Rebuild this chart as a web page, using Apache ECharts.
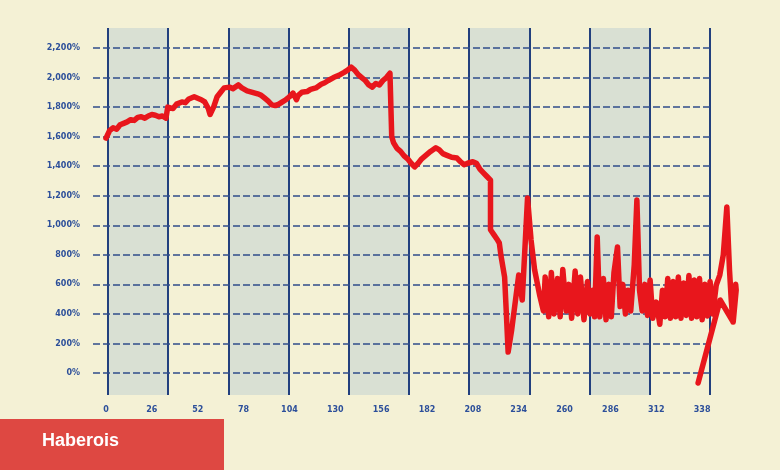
<!DOCTYPE html>
<html><head><meta charset="utf-8">
<script src="https://cdn.jsdelivr.net/npm/echarts@6/dist/echarts.min.js"></script>
<style>html,body{margin:0;padding:0;background:#f4f1d5}#c{width:780px;height:470px}</style>
</head><body><div id="c"></div>
<script>
// Day index (x) and cumulative return in % (y)
const days = [
  0,1,2,4,6,8,10,12,14,16,18,20,22,24,26,28,30,32,34,35,38,40,43,45,47,50,52,54,56,58,59,61,63,65,67,70,72,75,77,80,83,86,88,90,92,94,96,98,100,102,104,106,108,109,111,114,116,119,122,124,126,129,132,135,137,139,141,143,145,147,149,151,153,155,157,159,161,
  162,163,165,167,169,171,173,175,177,179,181,184,187,189,191,193,196,199,201,203,205,208,210,212,214,216,218,218,220,222,223,224,226,227,228,
  230,234,236,239,241,243,246,248,249,251,252.5,254,256,257.5,259,261,262.5,264,266,267.5,269,271,273,274.5,276,277,278.5,280,282,283.5,285,286.5,288,290,291.5,293,294.5,296,297.5,299.5,301,302.5,304,305.5,307,308.5,310,312,314,315.5,317,318.5,320,321.5,323,324.5,326,327.5,329,330.5,332,333.5,335,336.5,338,339.5,341,342.5,344,346,348,350,352,353.5,354.5,355.5,357,357.3,355.6,348.2,335.7
];
const returnsPct = [
  1590,1600,1640,1660,1650,1680,1690,1700,1715,1710,1730,1735,1725,1740,1750,1745,1735,1740,1725,1800,1790,1820,1835,1830,1855,1870,1860,1850,1835,1790,1750,1800,1870,1900,1930,1935,1925,1950,1930,1910,1900,1890,1880,1860,1840,1815,1810,1820,1835,1850,1870,1895,1850,1880,1900,1905,1920,1930,1955,1965,1980,2000,2015,2035,2050,2070,2050,2020,2000,1980,1950,1935,1960,1950,1980,2000,2030,
  1600,1560,1520,1500,1470,1450,1420,1395,1420,1450,1470,1500,1525,1510,1485,1475,1460,1455,1430,1410,1420,1430,1420,1380,1355,1330,1305,970,935,900,880,790,650,400,142,
  291,663,494,1185,900,700,520,420,650,380,680,400,640,380,700,420,600,370,690,400,650,360,620,400,560,380,921,380,640,360,600,380,680,853,450,600,400,560,420,731,1171,560,420,600,390,630,370,480,330,560,380,640,370,620,380,650,370,610,390,660,370,630,380,640,360,600,386,620,400,596,663,800,1124,700,494,345,600,562,345,494,-68
];
const xTickStep = 26;
const yTickStep = 200;
const caption = 'Haberois';

const navy = '#22407e';
const lineData = days.map((d, i) => [d, returnsPct[i]]);
const fmtPct = v => (v >= 1000 ? Math.floor(v / 1000) + ',' + String(v % 1000).padStart(3, '0') : String(v)) + '%';

const chart = echarts.init(document.getElementById('c'), null, {renderer: 'canvas'});
chart.setOption({
  backgroundColor: '#f4f1d5',
  animation: false,
  grid: [
    {left: 108, right: 70, top: 28, bottom: 75},
    {left: 93, right: 70, top: 48, bottom: 97},
    {left: 106, right: 32, top: 48, bottom: 97}
  ],
  xAxis: [
    {gridIndex: 0, type: 'value', min: 0, max: 10, interval: 1, z: 0,
      axisLine: {show: false}, axisTick: {show: false}, axisLabel: {show: false},
      splitLine: {show: true, lineStyle: {color: navy, width: 2}},
      splitArea: {show: true, areaStyle: {color: ['#d9e0d3', 'rgba(0,0,0,0)']}}},
    {gridIndex: 1, type: 'value', min: 0, max: 1, show: false},
    {gridIndex: 2, type: 'value', min: 0, max: 364, interval: xTickStep,
      axisLine: {show: false}, axisTick: {show: false}, splitLine: {show: false},
      axisLabel: {show: true, showMaxLabel: false, margin: 33, color: '#2c4f9a',
        fontFamily: 'DejaVu Sans', fontWeight: 'bold', fontSize: 8}}
  ],
  yAxis: [
    {gridIndex: 0, type: 'value', min: 0, max: 1, show: false},
    {gridIndex: 1, type: 'value', min: 0, max: 2200, interval: yTickStep, z: 1,
      axisLine: {show: false}, axisTick: {show: false},
      axisLabel: {show: true, margin: 13, color: '#2c4f9a', fontFamily: 'DejaVu Sans',
        fontWeight: 'bold', fontSize: 8, formatter: fmtPct},
      splitLine: {show: true, lineStyle: {color: '#2f4c8a', width: 1.5, type: [7, 3]}}},
    {gridIndex: 2, type: 'value', min: 0, max: 2200, interval: yTickStep, show: false}
  ],
  series: [{
    type: 'line', xAxisIndex: 2, yAxisIndex: 2, data: lineData, clip: false, z: 5,
    showSymbol: false, symbol: 'none',
    lineStyle: {color: '#e8161c', width: 5.5, join: 'round', cap: 'round'}
  }],
  graphic: [
    {type: 'rect', left: 0, top: 419, shape: {width: 224, height: 51}, style: {fill: '#de4842'}},
    {type: 'text', left: 42, top: 432, style: {text: caption, fill: '#ffffff',
      font: 'bold 18px "Liberation Sans", Arial, sans-serif'}}
  ]
});
</script></body></html>
